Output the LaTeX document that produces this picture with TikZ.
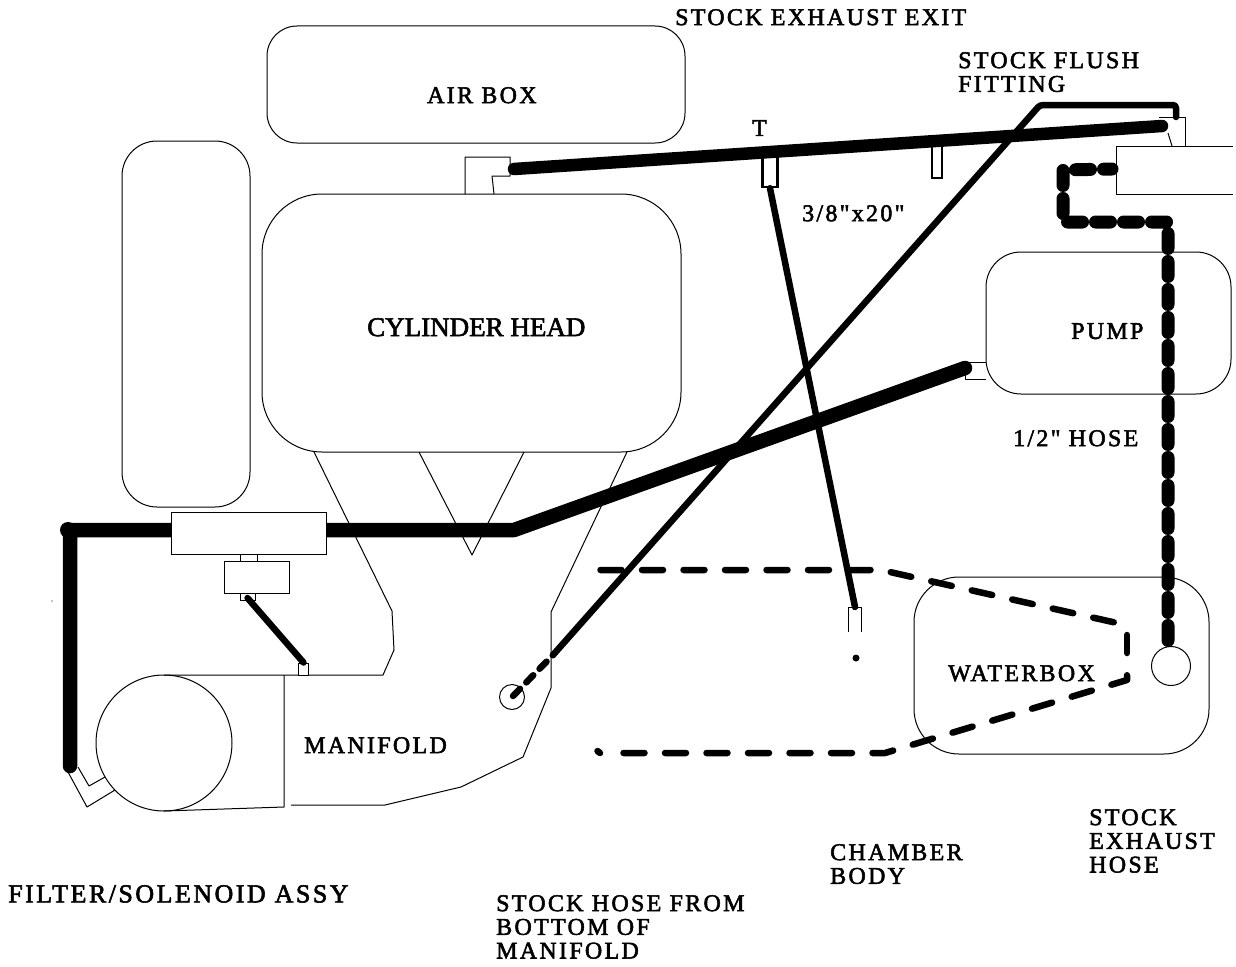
\documentclass[tikz,border=0pt]{standalone}
\usepackage{fontspec}
\newfontfamily\labelfont{Liberation Serif}[LetterSpace=9.5,FakeBold=2.2]
\newfontfamily\headfont{Liberation Serif}[FakeBold=2.2]
\usetikzlibrary{calc,positioning}
\begin{document}
\begin{tikzpicture}[
    x=1pt, y=-1pt,
    part/.style={draw=black, line width=1pt, fill=white, inner sep=0pt, minimum width=#1},
    thin line/.style={draw=black, line width=1pt, line join=round},
    label/.style={anchor=north west, align=left, inner sep=0pt, text=black,
                  font=\labelfont\fontsize{24}{23.7}\selectfont},
    hose big/.style={draw=black, line width=14.5pt, line cap=round, line join=round},
    hose mid/.style={draw=black, line width=6.5pt, line cap=round, line join=round},
    hose dash/.style={draw=black, line width=13pt, line cap=round, line join=round,
                      dash pattern=on 15pt off 13pt, dash phase=6.5pt},
    hose thin dash/.style={draw=black, line width=6.5pt, line cap=round, line join=round,
                      dash pattern=on 21pt off 20.5pt},
]
    \useasboundingbox (0,0) rectangle (1236,966);

    \node[part=418pt, minimum height=117pt, rounded corners=30pt] (airbox) at (476,84.5) {};
    \node[part=128pt, minimum height=366pt, rounded corners=35pt] (tank) at (186,324) {};
    \node[part=419pt, minimum height=258pt, rounded corners=60pt] (head) at (471.5,323) {};
    \node[part=245pt, minimum height=142pt, rounded corners=35pt] (pump) at (1108.5,323) {};
    \node[part=295pt, minimum height=177pt, rounded corners=45pt] (waterbox) at (1061.5,665.5) {};
    \node[part=136pt, minimum height=136pt, circle] (filter) at (164,743) {};
    \node[part=39pt, circle] (drain) at (1171,666) {};
    \node[part=25pt, circle] (port) at (512,697) {};

    \draw[thin line] (465,194) -- (465,157) -- (510,157) -- (510,176) -- (492,176) -- (494,194);
    \draw[thin line] (965,362) -- (986,362);
    \draw[thin line] (965,362) -- (965,379) -- (986,379);
    \draw[thin line] (1159,117) -- (1185,117) -- (1185,146);
    \draw[thin line] (1168,133) -- (1172,146);
    \draw[thin line] (1233,146) -- (1116,146) -- (1116,194) -- (1233,194);
    \draw[thin line] (419,452) -- (472,555) -- (524,452);
    \draw[thin line] (314,452) -- (392,611) -- (394,650) -- (383,675) -- (164,675);
    \draw[thin line] (627,452) -- (551,612) -- (551,688) -- (523,757) -- (461,787) -- (385,805) -- (291,805);
    \draw[thin line] (284,675) -- (284,807) -- (164,811);
    \draw[thin line] (78,767) -- (89,786) -- (105,777);
    \draw[thin line] (68,772) -- (87,807) -- (115,790);
    \draw[thin line] (848,632) -- (848,607) -- (861,607) -- (861,632);

    \node[part=15pt, minimum height=34pt, line width=2.5pt] (tee) at (770,170) {};
    \node[part=10pt, minimum height=36pt, line width=2.5pt] (plug) at (937,160) {};

    \coordinate (hoseA) at (514,169);
    \coordinate (hoseB) at (1162,126);
    \draw[draw=black, line width=12.5pt, line cap=round] (hoseA) -- (hoseB);

    \coordinate (pumpin) at (965,368);
    \coordinate (bend) at (514,530);
    \coordinate (corner) at (70,530);
    \coordinate (filterin) at (70,766);
    \draw[hose big] (pumpin) -- (bend) -- (corner) -- (filterin);
    \fill[black] (68,530) circle (8pt);

    \node[part=155pt, minimum height=42pt] (filterbox) at (248.5,533) {};
    \node[part=17pt, minimum height=7pt] (neckA) at (248.5,557.5) {};
    \node[part=65pt, minimum height=32pt] (solenoid) at (256.5,577) {};
    \node[part=15pt, minimum height=7pt] (neckB) at (247.5,596.5) {};
    \node[part=9.5pt, minimum height=12pt] (nipple) at (303.5,669) {};
    \draw[hose mid] (neckB.center) ++(0,1.5) -- (nipple.north);

    \coordinate (flushA) at (1176,117);
    \coordinate (flushB) at (1176,105);
    \coordinate (flushC) at (1040,105);
    \coordinate (flushD) at (553,655);
    \coordinate (flushE) at (513,696);
    \draw[hose mid, rounded corners=3pt] (flushA) -- (flushB) -- (flushC) -- (flushD);
    \draw[hose mid, dash pattern=on 10pt off 9pt] (flushE) -- (flushD);

    \coordinate (chamberin) at (855,607);
    \draw[hose mid] (tee.south) -- (chamberin);
    \fill[black] (856,658) circle (3.5pt);
    \fill[black] (52,601) circle (0.6pt);

    \draw[hose dash] (1112,169) -- (1063,170) -- (1063,222) -- (1168,222) -- (1168,646);
    \draw[hose thin dash] (600.5,570) -- (881,570) -- (1117,623);
    \draw[hose mid] (1127,635) -- (1127,653);
    \draw[hose thin dash] (623.5,753) -- (885,753) -- (1127,680) -- (1127,670);
    \draw[hose mid] (597.5,751) -- (600,753);

    \node[label] (exit) at (675,9) {STOCK EXHAUST EXIT};
    \node[label] (flush) at (958,52) {STOCK FLUSH\\FITTING};
    \node[label] (air) at (427,87) {AIR BOX};
    \node[label] (tlabel) at (752,120) {T};
    \node[label] (size) at (802,205) {3/8"x20"};
    \node[label, font=\headfont\fontsize{27}{30}\selectfont] (cyl) at (367,318) {CYLINDER HEAD};
    \node[label] (pumplabel) at (1071,323) {PUMP};
    \node[label] (half) at (1013,430) {1/2" HOSE};
    \node[label] (water) at (948,665) {WATERBOX};
    \node[label] (mani) at (304,737) {MANIFOLD};
    \node[label] (exhaust) at (1089,809) {STOCK\\EXHAUST\\HOSE};
    \node[label] (chamber) at (830,844) {CHAMBER\\BODY};
    \node[label, font=\labelfont\fontsize{26}{30}\selectfont] (assy) at (8,885) {FILTER/SOLENOID ASSY};
    \node[label] (stockhose) at (496,895) {STOCK HOSE FROM\\BOTTOM OF\\MANIFOLD};
\end{tikzpicture}
\end{document}
